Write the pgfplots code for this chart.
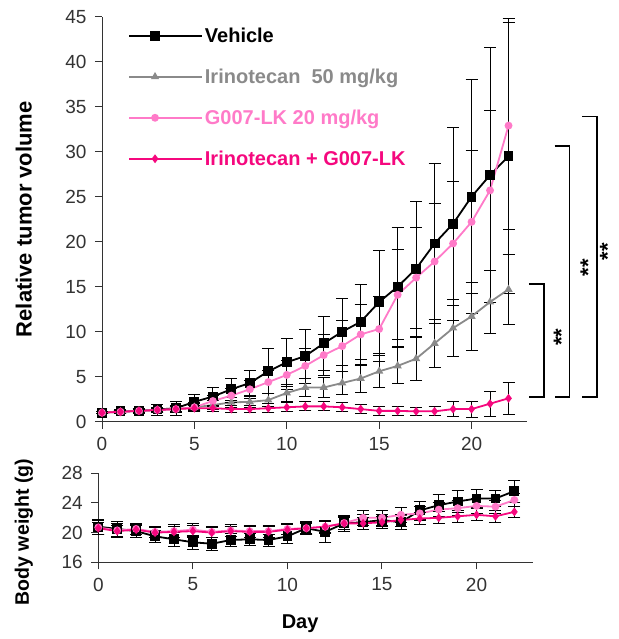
\documentclass[border=0pt]{standalone}
\usepackage{fontspec}
\setmainfont{Liberation Sans}
\usepackage{pgfplots}
\pgfplotsset{compat=1.18}
\usepackage{pgfplotstable}
\definecolor{vgray}{HTML}{8A8A8A}
\definecolor{gpink}{HTML}{FF7AC8}
\definecolor{cpink}{HTML}{F5087E}
\definecolor{axgray}{HTML}{333333}

% day mean err
\pgfplotstableread{
d m e
0 1.0 0.1
1 1.15 0.25
2 1.2 0.3
3 1.35 0.6
4 1.5 0.8
5 2.2 0.8
6 2.8 1.0
7 3.6 1.2
8 4.3 1.4
9 5.6 2.5
10 6.6 2.7
11 7.3 3.0
12 8.7 3.0
13 10.0 3.7
14 11.1 4.2
15 13.3 5.7
16 15.0 6.6
17 17.0 7.5
18 19.8 8.9
19 22.0 10.7
20 25.0 13.0
21 27.4 14.2
22 29.5 15.3
}\vehtv
\pgfplotstableread{
d m e
0 1.0 0.1
1 1.1 0.2
2 1.2 0.25
3 1.3 0.3
4 1.4 0.35
5 1.6 0.4
6 1.85 0.5
7 2.15 0.6
8 2.2 0.6
9 2.4 0.7
10 3.2 0.9
11 3.8 1.0
12 3.8 1.1
13 4.3 1.3
14 4.8 1.5
15 5.6 1.8
16 6.2 2.0
17 7.0 2.4
18 8.7 2.7
19 10.4 3.2
20 11.7 3.8
21 13.3 3.5
22 14.7 3.9
}\irtv
\pgfplotstableread{
d m e
0 1.0 0.1
1 1.1 0.2
2 1.2 0.25
3 1.3 0.3
4 1.4 0.4
5 1.6 0.5
6 2.3 0.6
7 2.9 0.8
8 3.6 1.0
9 4.4 1.3
10 5.2 1.6
11 6.2 1.9
12 7.4 2.3
13 8.4 2.8
14 9.7 3.3
15 10.3 3.6
16 14.1 5.0
17 16.0 5.6
18 17.8 6.4
19 19.8 6.9
20 22.2 7.9
21 25.7 8.9
22 32.9 11.5
}\gtv
\pgfplotstableread{
d m e
0 1.0 0.1
1 1.1 0.15
2 1.2 0.2
3 1.3 0.2
4 1.4 0.25
5 1.5 0.3
6 1.5 0.35
7 1.4 0.4
8 1.4 0.4
9 1.5 0.5
10 1.6 0.5
11 1.7 0.5
12 1.7 0.5
13 1.6 0.5
14 1.4 0.5
15 1.2 0.5
16 1.2 0.5
17 1.15 0.45
18 1.15 0.5
19 1.4 0.8
20 1.4 0.9
21 2.0 1.4
22 2.6 1.8
}\ctv
\pgfplotstableread{
d m e
0 20.8 1.0
1 20.5 1.0
2 20.2 0.8
3 19.5 0.8
4 19.1 0.9
5 18.7 0.9
6 18.5 0.9
7 19.0 0.9
8 19.1 0.8
9 19.0 0.8
10 19.5 0.9
11 20.6 0.9
12 20.1 1.4
13 21.25 1.1
14 21.4 1.0
15 21.7 0.8
16 21.4 0.9
17 23.0 1.2
18 23.7 1.5
19 24.2 1.5
20 24.6 1.2
21 24.6 1.1
22 25.6 1.5
}\vehbw
\pgfplotstableread{
d m e
0 20.7 0.9
1 20.3 0.9
2 20.5 0.8
3 20.1 0.8
4 20.2 0.9
5 20.4 0.9
6 20.1 0.8
7 20.3 0.8
8 20.2 0.8
9 20.2 0.8
10 20.5 0.8
11 20.6 0.8
12 20.8 0.9
13 21.3 0.9
14 22.0 1.0
15 22.0 1.0
16 22.4 1.0
17 22.6 1.0
18 23.1 1.0
19 23.3 1.0
20 23.6 1.0
21 23.5 0.9
22 24.4 0.9
}\gbw
\pgfplotstableread{
d m e
0 20.6 0.8
1 20.2 0.8
2 20.4 0.7
3 20.0 0.7
4 20.1 0.8
5 20.2 0.8
6 20.0 0.7
7 20.2 0.7
8 20.1 0.7
9 20.1 0.7
10 20.4 0.7
11 20.6 0.7
12 20.8 0.8
13 21.25 0.8
14 21.25 0.8
15 21.4 0.8
16 21.7 0.8
17 21.9 0.8
18 22.0 0.8
19 22.2 0.8
20 22.4 0.8
21 22.2 0.8
22 22.8 0.8
}\cbw

\pgfplotsset{
  myax/.style={
    scale only axis,
    axis x line*=bottom, axis y line*=left,
    tick align=outside, major tick length=7pt,
    axis line style={axgray, line width=1pt},
    tick style={axgray, line width=1pt},
    xmin=0, xmax=23, xtick={0,5,10,15,20},
    enlargelimits=false,
    ticklabel style={font=\fontsize{19}{21}\selectfont, text=axgray},
    xticklabel style={yshift=-5pt},
    yticklabel style={xshift=-5pt},
    /pgf/number format/assume math mode=true,
    clip=false,
  },
  eb/.style={
    error bars/.cd, y dir=both, y explicit,
    error bar style={black, line width=0.8pt},
    error mark options={rotate=90, black, mark size=6pt, line width=0.8pt},
  },
}

\begin{document}
\begin{tikzpicture}
\useasboundingbox (0pt,0pt) rectangle (618pt,639pt);

\begin{axis}[myax,
  at={(102pt,217.3pt)}, anchor=south west,
  width=425pt, height=405pt,
  ymin=0, ymax=45, ytick={0,5,...,45},
  ylabel={\bfseries Relative tumor volume},
  ylabel style={font=\fontsize{22}{24}\selectfont, at={(axis description cs:-0.184,0.5)}, anchor=center},
  legend style={at={(axis description cs:0.061,0.978)}, anchor=north west, draw=none, fill=none,
    inner sep=0pt, row sep=21pt, font=\fontsize{20}{22}\bfseries\selectfont,
    nodes={inner xsep=2pt}},
  legend cell align=left,
  legend image code/.code={\draw[mark repeat=2,mark phase=2,#1] plot coordinates {(0pt,0pt) (26pt,0pt) (52pt,0pt)}; \path (0pt,0pt) -- (73pt,0pt);},
]
\addplot+[black, line width=1.8pt, mark=square*, mark size=4pt, mark options={solid, fill=black}, eb]
  table[x=d, y=m, y error=e] {\vehtv};
\addlegendentry{\textcolor{black}{Vehicle}}
\addplot+[vgray, line width=1.8pt, mark=triangle*, mark size=3pt, mark options={solid, fill=vgray}, eb]
  table[x=d, y=m, y error=e] {\irtv};
\addlegendentry{\textcolor{vgray}{Irinotecan\ \ 50 mg/kg}}
\addplot+[gpink, line width=1.8pt, mark=*, mark size=3pt, mark options={solid, fill=gpink}, eb]
  table[x=d, y=m, y error=e] {\gtv};
\addlegendentry{\textcolor{gpink}{G007-LK 20 mg/kg}}
\addplot+[cpink, line width=1.8pt, mark=diamond*, mark size=3pt, mark options={solid, fill=cpink}, eb]
  table[x=d, y=m, y error=e] {\ctv};
\addlegendentry{\textcolor{cpink}{Irinotecan + G007-LK}}

% significance brackets
\draw[black, line width=1.8pt] (axis cs:23.1,15.3) -- (axis cs:23.9,15.3) -- (axis cs:23.9,2.7) -- (axis cs:23.1,2.7);
\draw[black, line width=1.8pt] (axis cs:24.5,30.6) -- (axis cs:25.3,30.6) -- (axis cs:25.3,2.7) -- (axis cs:24.5,2.7);
\draw[black, line width=1.8pt] (axis cs:26.0,33.9) -- (axis cs:26.8,33.9) -- (axis cs:26.8,2.7) -- (axis cs:26.0,2.7);
\node[rotate=90, font=\fontsize{22}{22}\bfseries\selectfont, inner sep=0pt] at (axis cs:24.85,9.4) {**};
\node[rotate=90, font=\fontsize{22}{22}\bfseries\selectfont, inner sep=0pt] at (axis cs:26.3,17.1) {**};
\node[rotate=90, font=\fontsize{22}{22}\bfseries\selectfont, inner sep=0pt, anchor=south] at (axis cs:27.78,18.9) {**};
\end{axis}

\begin{axis}[myax,
  at={(98.3pt,76.7pt)}, anchor=south west,
  width=435pt, height=89pt,
  ymin=16, ymax=28, ytick={16,20,24,28},
  ylabel={\bfseries Body weight (g)},
  ylabel style={font=\fontsize{19.5}{21}\selectfont, at={(axis description cs:-0.171,0.34)}, anchor=center},
  xlabel={\bfseries Day},
  xlabel style={font=\fontsize{20}{22}\selectfont, at={(axis description cs:0.464,-0.685)}, anchor=center},
]
\addplot+[black, line width=1.8pt, mark=square*, mark size=4pt, mark options={solid, fill=black}, eb]
  table[x=d, y=m, y error=e] {\vehbw};
\addplot+[gpink, line width=1.8pt, mark=*, mark size=3pt, mark options={solid, fill=gpink}, eb]
  table[x=d, y=m, y error=e] {\gbw};
\addplot+[cpink, line width=1.8pt, mark=diamond*, mark size=3pt, mark options={solid, fill=cpink}, eb]
  table[x=d, y=m, y error=e] {\cbw};
\end{axis}
\end{tikzpicture}
\end{document}
